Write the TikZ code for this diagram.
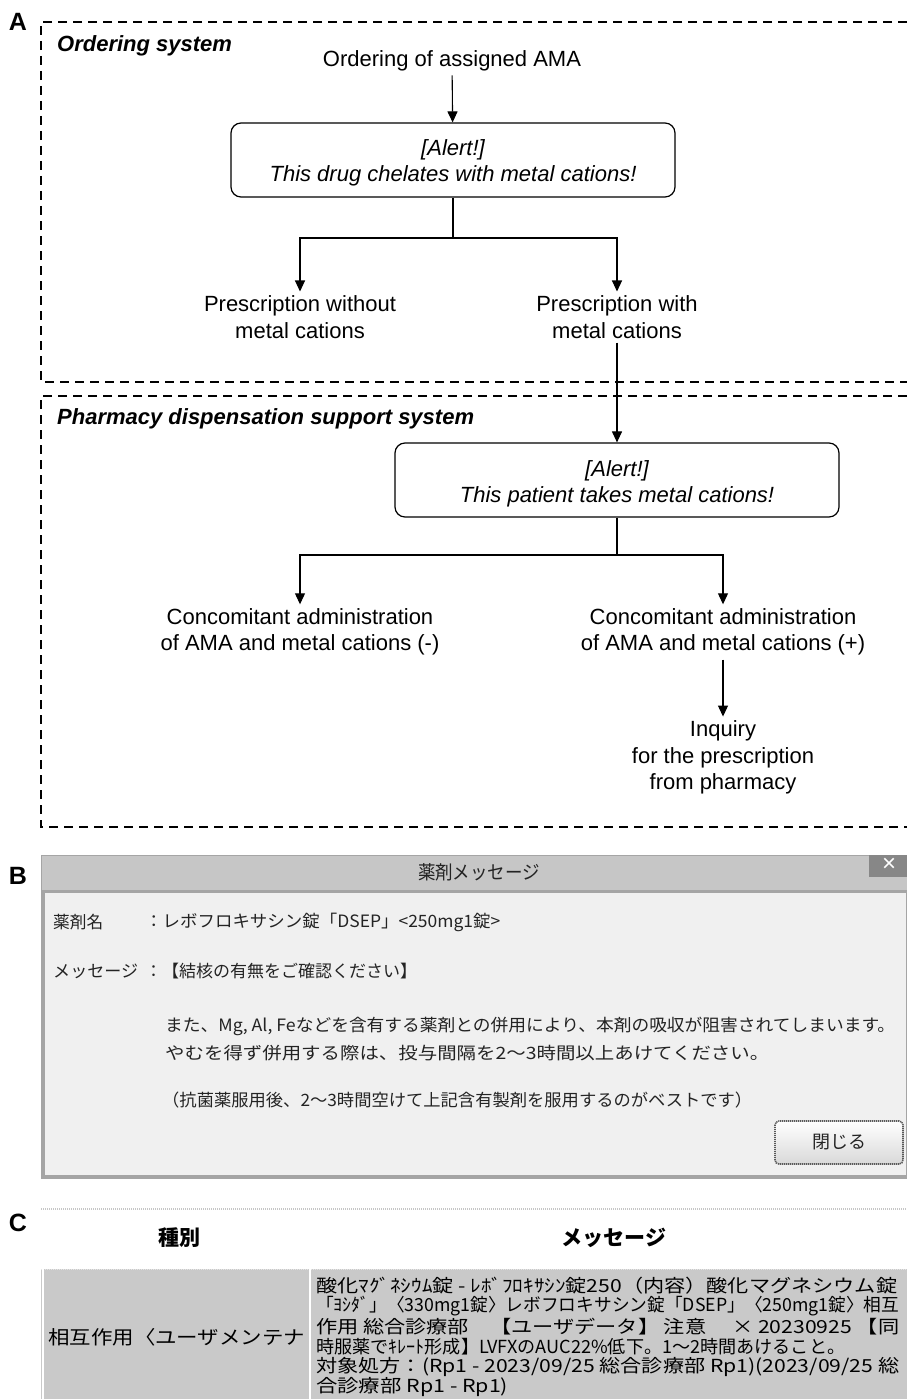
\documentclass[tikz,border=0pt]{standalone}
\usepackage{fontspec}
\setmainfont{Liberation Sans}
\newfontfamily\jp{Noto Sans CJK JP}
\usetikzlibrary{arrows.meta}
\newcommand\fitw[2]{\resizebox{#1}{\height}{#2}}
\definecolor{titlegray}{RGB}{198,198,198}
\definecolor{bodygray}{RGB}{240,240,240}
\definecolor{edgegray}{RGB}{165,165,165}
\definecolor{closegray}{RGB}{135,135,135}
\definecolor{rowgray}{RGB}{201,201,201}
\definecolor{jptext}{RGB}{35,35,35}
\begin{document}
\begin{tikzpicture}[x=1pt,y=-1pt,
  lbl/.style={font=\fontsize{22}{26.5}\selectfont, align=center, inner sep=4pt},
  systitle/.style={font=\fontsize{22}{26}\selectfont\bfseries\itshape, anchor=west, inner sep=0pt},
  panel/.style={font=\fontsize{25}{28}\selectfont\bfseries, inner sep=0pt},
  alertbox/.style={draw, rounded corners=10pt, line width=1.2pt, minimum width=444pt, minimum height=74pt, inner sep=0pt},
  alerttext/.style={align=center, font=\fontsize{22}{26.5}\selectfont\itshape, inner sep=0pt, yshift=-3pt},
  arr/.style={-{Triangle[length=11pt,width=10pt]}, line width=1.1pt},
  conn/.style={line width=1.1pt},
  dashbox/.style={dash pattern=on 9pt off 6pt, line width=1.8pt},
  jpb/.style={font=\jp\fontsize{17}{20}\selectfont, text=jptext, anchor=west, inner sep=0pt},
  jpc/.style={font=\jp\fontsize{18}{20}\selectfont, text=black, anchor=west, inner sep=0pt}
]
\useasboundingbox (0,0) rectangle (907,1399);

% ---------------- Panel A ----------------
\node[panel] (lA) at (18,22) {A};
\draw[dashbox] (907,22) -- (41,22) -- (41,382) -- (907,382);
\draw[dashbox] (907,396) -- (41,396) -- (41,827) -- (907,827);
\node[systitle] (sys1) at (57,46) {Ordering system};
\node[systitle] (sys2) at (57,419) {Pharmacy dispensation support system};

\node[lbl] (order) at (452,61) {Ordering of assigned AMA};
\node[alertbox, label={[alerttext]center:{[Alert!]\\This drug chelates with metal cations!}}] (alert1) at (453,160) {};
\coordinate (split1) at (453,238);
\node[lbl] (without) at (300,317) {Prescription without\\metal cations};
\node[lbl] (with) at (617,317) {Prescription with\\metal cations};
\node[alertbox, label={[alerttext, yshift=-1pt]center:{[Alert!]\\This patient takes metal cations!}}] (alert2) at (617,480) {};
\coordinate (split2) at (617,555);
\node[lbl] (conc1) at (300,632) {Concomitant administration\\of AMA and metal cations (-)};
\node[lbl] (conc2) at (723,632) {Concomitant administration\\of AMA and metal cations (+)};
\node[lbl] (inq) at (723,757.5) {Inquiry\\for the prescription\\from pharmacy};

\draw[arr] (order) -- (alert1);
\draw[conn] (alert1.south) -- (split1);
\draw[arr] (split1) -| (without.north);
\draw[arr] (split1) -| (with.north);
\draw[arr] (with.south) -- (alert2.north);
\draw[conn] (alert2.south) -- (split2);
\draw[arr] (split2) -| (conc1.north);
\draw[arr] (split2) -| (conc2.north);
\draw[arr] (conc2.south) -- (inq.north);

% ---------------- Panel B ----------------
\node[panel] (lB) at (18,876) {B};
\fill[edgegray] (41,855) rectangle (907,1179);
\fill[titlegray] (42,856) rectangle (907,890);
\draw[edgegray, fill=bodygray, line width=1pt] (44,892) rectangle (906,1175);
\fill[closegray] (869,855) rectangle (907,877);
\node[text=white, font=\fontsize{24}{24}\selectfont, inner sep=0pt] (close) at (889,865) {×};
\node[font=\jp\fontsize{19}{22}\selectfont, text=jptext, inner sep=0pt] (btitle) at (479,872) {\fitw{122pt}{薬剤メッセージ}};

\node[jpb] (b1a) at (53,922) {\fitw{50pt}{薬剤名}};
\node[jpb] (b1b) at (145,922) {\fitw{355pt}{：レボフロキサシン錠「DSEP」<250mg1錠>}};
\node[jpb] (b2a) at (53,971) {\fitw{85pt}{メッセージ}};
\node[jpb] (b2b) at (145,971) {：【結核の有無をご確認ください】};
\node[jpb] (b3) at (165,1026) {\fitw{730pt}{また、Mg, Al, Feなどを含有する薬剤との併用により、本剤の吸収が阻害されてしまいます。}};
\node[jpb] (b4) at (165,1053) {\fitw{604pt}{やむを得ず併用する際は、投与間隔を2～3時間以上あけてください。}};
\node[jpb] (b5) at (162,1100) {\fitw{590pt}{（抗菌薬服用後、2～3時間空けて上記含有製剤を服用するのがベストです）}};

\draw[rounded corners=4pt, top color=white, bottom color=gray!30, draw=gray!70!black,
      dash pattern=on 1.2pt off 0.8pt, line width=1.6pt] (775,1121) rectangle (903,1164);
\node[font=\jp\fontsize{18}{20}\selectfont, text=jptext, inner sep=0pt] (closebtn) at (839,1142) {閉じる};

% ---------------- Panel C ----------------
\node[panel] (lC) at (18,1223) {C};
\draw[gray!45, dash pattern=on 1pt off 1pt, line width=1.2pt] (41,1209) -- (907,1209);
\node[font=\jp\fontsize{21}{24}\selectfont\bfseries, inner sep=0pt] (hkind) at (179,1238) {種別};
\node[font=\jp\fontsize{21}{24}\selectfont\bfseries, inner sep=0pt] (hmsg) at (614,1238) {メッセージ};
\fill[rowgray] (41,1269) rectangle (907,1399);
\draw[gray!20, dash pattern=on 1pt off 1pt, line width=1pt] (41,1269.5) -- (907,1269.5);
\draw[white, line width=1.5pt] (43,1269) -- (43,1399);
\draw[white, line width=2pt] (310,1269) -- (310,1399);
\node[jpc, font=\jp\fontsize{19}{22}\selectfont] (ckind) at (48,1337) {\fitw{257pt}{相互作用〈ユーザメンテナ}};
\node[jpc] (c1) at (316,1286) {\fitw{581pt}{酸化ﾏｸﾞﾈｼｳﾑ錠 - ﾚﾎﾞﾌﾛｷｻｼﾝ錠250（内容）酸化マグネシウム錠}};
\node[jpc] (c2) at (316,1306) {\fitw{583pt}{「ﾖｼﾀﾞ」〈330mg1錠〉レボフロキサシン錠「DSEP」〈250mg1錠〉相互}};
\node[jpc] (c3) at (316,1326.5) {\fitw{583pt}{作用 総合診療部　【ユーザデータ】 注意　 × 20230925 【同}};
\node[jpc] (c4) at (316,1347) {\fitw{529pt}{時服薬でｷﾚｰﾄ形成】LVFXのAUC22\%低下。1～2時間あけること。}};
\node[jpc] (c5) at (316,1367) {\fitw{583pt}{対象処方：(Rp1 - 2023/09/25 総合診療部 Rp1)(2023/09/25 総}};
\node[jpc] (c6) at (316,1387) {\fitw{192pt}{合診療部 Rp1 - Rp1)}};
\end{tikzpicture}
\end{document}
